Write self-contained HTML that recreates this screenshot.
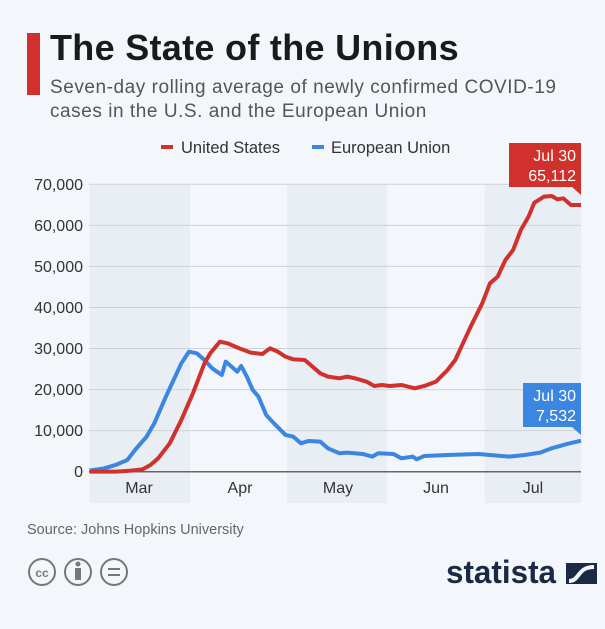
<!DOCTYPE html>
<html><head><meta charset="utf-8"><style>
body{margin:0;width:605px;height:629px;background:#f3f6fa;font-family:"Liberation Sans",sans-serif;overflow:hidden;position:relative}
.t{position:absolute;white-space:nowrap}
</style></head><body>
<div style="position:absolute;left:27px;top:33px;width:13px;height:62px;background:#d0312d"></div>
<div class="t" style="left:50px;top:27px;font-size:36px;font-weight:bold;color:#1a1a1a;letter-spacing:0.3px">The State of the Unions</div>
<div class="t" style="left:50px;top:76px;font-size:19px;color:#555;line-height:24px;letter-spacing:0.55px">Seven-day rolling average of newly confirmed COVID-19<br>cases in the U.S. and the European Union</div>
<svg width="605" height="629" style="position:absolute;left:0;top:0" font-family="Liberation Sans, sans-serif">
<rect x="89.5" y="184" width="100.5" height="319" fill="#e9edf4"/>
<rect x="287" y="184" width="100" height="319" fill="#e9edf4"/>
<rect x="484.6" y="184" width="96.4" height="319" fill="#e9edf4"/>
<g stroke="#cdd2d9" stroke-width="1">
<line x1="89" x2="581" y1="184.3" y2="184.3"/><line x1="89" x2="581" y1="225.4" y2="225.4"/><line x1="89" x2="581" y1="266.4" y2="266.4"/><line x1="89" x2="581" y1="307.5" y2="307.5"/><line x1="89" x2="581" y1="348.5" y2="348.5"/><line x1="89" x2="581" y1="389.6" y2="389.6"/><line x1="89" x2="581" y1="430.6" y2="430.6"/>
</g>
<line x1="89" x2="581" y1="471.7" y2="471.7" stroke="#666" stroke-width="1.5"/>
<g font-size="16" fill="#333" text-anchor="end">
<text x="83" y="190">70,000</text><text x="83" y="231">60,000</text><text x="83" y="272">50,000</text><text x="83" y="313">40,000</text><text x="83" y="354">30,000</text><text x="83" y="395">20,000</text><text x="83" y="436">10,000</text><text x="83" y="477">0</text>
</g>
<g font-size="16" fill="#333" text-anchor="middle">
<text x="139" y="493">Mar</text><text x="240" y="493">Apr</text><text x="338" y="493">May</text><text x="436" y="493">Jun</text><text x="533" y="493">Jul</text>
</g>
<g transform="translate(0,130) scale(0.3858,0.3333)" fill="none" stroke-linejoin="round">
<polyline vector-effect="non-scaling-stroke" stroke="#3a86e0" stroke-width="4" points="232,1022 270,1015 300,1005 330,990 350,960 380,920 400,880 430,800 450,750 470,700 490,665 510,670 530,690 550,715 575,735 585,695 600,710 615,725 625,708 640,740 655,780 670,800 690,855 710,880 740,915 760,920 780,940 800,933 830,935 850,955 880,970 900,968 940,972 965,980 980,970 1020,972 1040,985 1070,980 1080,988 1100,978 1160,975 1240,972 1320,980 1360,975 1400,968 1430,955 1470,942 1506,932"/>
<polyline vector-effect="non-scaling-stroke" stroke="#d0312d" stroke-width="4" points="232,1025 300,1025 340,1022 370,1018 390,1005 410,985 440,940 470,870 500,790 530,700 545,670 570,635 590,640 600,645 620,655 650,668 680,672 700,655 720,665 740,680 760,688 790,690 810,710 830,730 850,740 880,745 900,740 920,745 950,755 970,768 990,765 1010,768 1040,765 1075,775 1100,768 1130,755 1160,720 1180,690 1200,640 1220,590 1250,520 1270,460 1290,440 1310,390 1330,360 1350,300 1370,260 1385,218 1410,200 1430,198 1445,208 1460,205 1480,225 1506,225"/>
</g>
<rect x="509" y="143" width="72" height="44" fill="#d0312d"/>
<polygon points="572,187 581,187 581,195" fill="#d0312d"/>
<text x="576" y="161" font-size="16" fill="#fff" text-anchor="end">Jul 30</text>
<text x="576" y="181" font-size="16" fill="#fff" text-anchor="end">65,112</text>
<rect x="523" y="383" width="58" height="44" fill="#3a86e0"/>
<polygon points="572,427 581,427 581,435" fill="#3a86e0"/>
<text x="576" y="401" font-size="16" fill="#fff" text-anchor="end">Jul 30</text>
<text x="576" y="421" font-size="16" fill="#fff" text-anchor="end">7,532</text>
<rect x="161" y="145" width="12" height="4" fill="#d0312d"/>
<text x="181" y="153" font-size="16.5" fill="#333">United States</text>
<rect x="312" y="145" width="12" height="4" fill="#3a86e0"/>
<text x="331" y="153" font-size="16.5" fill="#333">European Union</text>
<text x="27" y="534" font-size="14.5" fill="#666">Source: Johns Hopkins University</text>
<g stroke="#777" stroke-width="2" fill="none">
<circle cx="42" cy="572" r="13"/><circle cx="78" cy="572" r="13"/><circle cx="114" cy="572" r="13"/>
<line x1="108" x2="120" y1="569" y2="569"/><line x1="108" x2="120" y1="575" y2="575"/>
</g>
<text x="42" y="577" font-size="12" font-weight="bold" fill="#777" text-anchor="middle">cc</text>
<circle cx="78" cy="564" r="2.5" fill="#777"/><rect x="75" y="568" width="6" height="12" fill="#777"/>
<text x="446" y="583" font-size="32" font-weight="bold" fill="#1b2a44" textLength="110" lengthAdjust="spacingAndGlyphs">statista</text>
<rect x="566" y="563" width="31" height="21" fill="#1b2a44"/>
<path d="M569,581 C580,581 577,567 594,567" stroke="#f3f6fa" stroke-width="4" fill="none"/>
</svg>
</body></html>
